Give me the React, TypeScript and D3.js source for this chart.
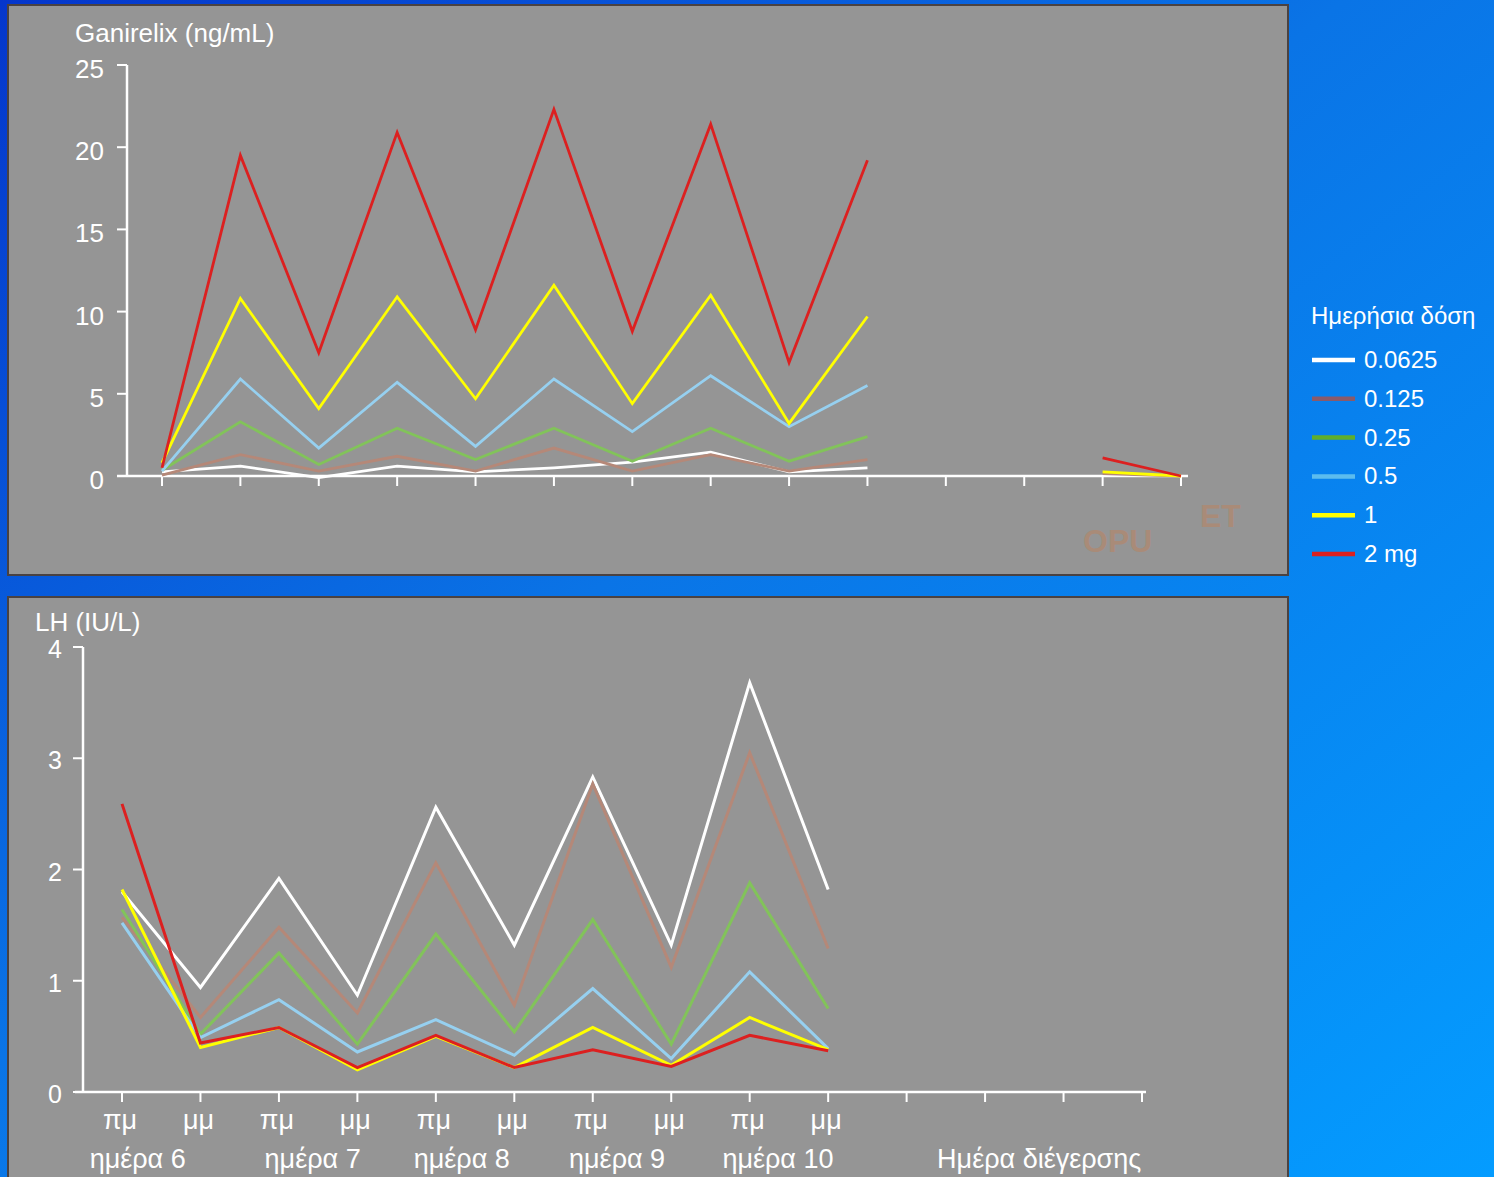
import React from 'react';
import * as d3 from 'd3';

// x positions: 10 sampling points (πμ/μμ, days 6-10) + 4 extra ticks (trigger day etc.)
const timeLabels = ['πμ', 'μμ', 'πμ', 'μμ', 'πμ', 'μμ', 'πμ', 'μμ', 'πμ', 'μμ'];
const tickCount = 14;
const dayLabels = [
  { text: 'ημέρα 6', at: 0.2 },
  { text: 'ημέρα 7', at: 2.43 },
  { text: 'ημέρα 8', at: 4.33 },
  { text: 'ημέρα 9', at: 6.31 },
  { text: 'ημέρα 10', at: 8.36 },
  { text: 'Ημέρα διέγερσης', at: 11.69 },
];

const doses = ['0.0625', '0.125', '0.25', '0.5', '1', '2 mg'];
const lineColors = ['#ffffff', '#b58878', '#82c35a', '#96d0f0', '#ffff00', '#dc2020'];
const legendColors = ['#ffffff', '#8a5a6a', '#5fae2c', '#5cbcee', '#ffff00', '#dc2020'];

// Ganirelix (ng/mL), null = no sample
const gan0625 = [0.25, 0.6, -0.1, 0.6, 0.25, 0.5, 0.85, 1.45, 0.25, 0.5, null, null, null, null];
const gan125 = [0.05, 1.3, 0.3, 1.2, 0.3, 1.7, 0.3, 1.3, 0.3, 1.0, null, null, 0.15, 0];
const gan25 = [0.35, 3.3, 0.7, 2.9, 1.0, 2.9, 0.9, 2.9, 0.9, 2.4, null, null, null, null];
const gan5 = [0.3, 5.9, 1.7, 5.7, 1.8, 5.9, 2.7, 6.1, 3.0, 5.5, null, null, null, null];
const gan1 = [0.8, 10.8, 4.1, 10.9, 4.7, 11.6, 4.4, 11.0, 3.2, 9.7, null, null, 0.25, 0];
const gan2 = [0.5, 19.5, 7.5, 20.9, 8.9, 22.3, 8.8, 21.4, 6.9, 19.2, null, null, 1.1, 0];
const ganSeries = [gan0625, gan125, gan25, gan5, gan1, gan2];
const ganTicks = [0, 5, 10, 15, 20, 25];

// LH (IU/L)
const lh0625 = [1.8, 0.94, 1.92, 0.87, 2.56, 1.32, 2.83, 1.32, 3.68, 1.82];
const lh125 = [1.57, 0.67, 1.48, 0.71, 2.06, 0.78, 2.77, 1.12, 3.05, 1.29];
const lh25 = [1.64, 0.52, 1.25, 0.43, 1.42, 0.54, 1.55, 0.43, 1.88, 0.75];
const lh5 = [1.52, 0.49, 0.83, 0.36, 0.65, 0.33, 0.93, 0.3, 1.08, 0.39];
const lh1 = [1.82, 0.4, 0.58, 0.2, 0.5, 0.22, 0.58, 0.24, 0.67, 0.38];
const lh2 = [2.59, 0.44, 0.58, 0.22, 0.51, 0.22, 0.38, 0.23, 0.51, 0.37];
const lhSeries = [lh0625, lh125, lh25, lh5, lh1, lh2];
const lhTicks = [0, 1, 2, 3, 4];

const FONT = '"Liberation Sans", Arial, sans-serif';

export default function App() {
  const idx = d3.range(tickCount);

  // top chart scales
  const x1 = d3.scaleLinear().domain([0, tickCount - 1]).range([162, 1181]);
  const y1 = d3.scaleLinear().domain([0, 25]).range([476, 65]);
  // bottom chart scales
  const x2 = d3.scaleLinear().domain([0, tickCount - 1]).range([122, 1142]);
  const y2 = d3.scaleLinear().domain([0, 4]).range([1092, 647]);

  const line1 = d3.line<number | null>()
    .defined(d => d != null)
    .x((d, i) => x1(i))
    .y(d => y1(d as number));
  const line2 = d3.line<number>()
    .x((d, i) => x2(i))
    .y(d => y2(d));

  return (
    <svg width={1494} height={1177} style={{ position: 'fixed', left: 0, top: 0 }} fontFamily={FONT}>
      <defs>
        <linearGradient id="bg" x1="0" y1="0" x2="1" y2="1">
          <stop offset="0" stopColor="#0536cc" />
          <stop offset="0.45" stopColor="#0a74e6" />
          <stop offset="1" stopColor="#049cff" />
        </linearGradient>
      </defs>
      <rect width={1494} height={1177} fill="url(#bg)" />

      {/* panels */}
      <rect x={8} y={5} width={1280} height={570} fill="#959595" stroke="#4a4242" strokeWidth={2} />
      <rect x={8} y={597} width={1280} height={600} fill="#959595" stroke="#4a4242" strokeWidth={2} />

      {/* ---- top chart: Ganirelix ---- */}
      <text x={75} y={42} fill="#fff" fontSize={26}>Ganirelix (ng/mL)</text>
      <line x1={127} x2={127} y1={y1(25)} y2={y1(0)} stroke="#fff" strokeWidth={2.5} />
      {ganTicks.map(t => (
        <g key={t}>
          <line x1={117} x2={127} y1={y1(t)} y2={y1(t)} stroke="#fff" strokeWidth={2} />
          <text x={104} y={y1(t) + 13} fill="#fff" fontSize={26} textAnchor="end">{t}</text>
        </g>
      ))}
      <line x1={117} x2={1188} y1={y1(0)} y2={y1(0)} stroke="#fff" strokeWidth={2.5} />
      {idx.map(i => (
        <line key={i} x1={x1(i)} x2={x1(i)} y1={y1(0)} y2={y1(0) + 10} stroke="#fff" strokeWidth={2} />
      ))}
      {ganSeries.map((s, k) => (
        <path key={k} d={line1(s) || ''} fill="none" stroke={lineColors[k]} strokeWidth={2.8} strokeLinejoin="miter" />
      ))}
      <text x={1083} y={552} fill="#a98b78" fontSize={32} fontWeight="bold">OPU</text>
      <text x={1200} y={527} fill="#a98b78" fontSize={32} fontWeight="bold">ET</text>

      {/* legend */}
      <text x={1311} y={324} fill="#fff" fontSize={24}>Ημερήσια δόση</text>
      {doses.map((d, k) => {
        const yy = 360 + k * 38.8;
        return (
          <g key={d}>
            <line x1={1312} x2={1355} y1={yy} y2={yy} stroke={legendColors[k]} strokeWidth={4.5} />
            <text x={1364} y={yy + 8} fill="#fff" fontSize={24}>{d}</text>
          </g>
        );
      })}

      {/* ---- bottom chart: LH ---- */}
      <text x={35} y={631} fill="#fff" fontSize={26}>LH (IU/L)</text>
      <line x1={83} x2={83} y1={y2(4)} y2={y2(0)} stroke="#fff" strokeWidth={2.5} />
      {lhTicks.map(t => (
        <g key={t}>
          <line x1={73} x2={83} y1={y2(t)} y2={y2(t)} stroke="#fff" strokeWidth={2} />
          <text x={62} y={y2(t) + 11} fill="#fff" fontSize={25} textAnchor="end">{t}</text>
        </g>
      ))}
      <line x1={75} x2={1146} y1={y2(0)} y2={y2(0)} stroke="#fff" strokeWidth={2.5} />
      {idx.map(i => (
        <line key={i} x1={x2(i)} x2={x2(i)} y1={y2(0)} y2={y2(0) + 10} stroke="#fff" strokeWidth={2} />
      ))}
      {lhSeries.map((s, k) => (
        <path key={k} d={line2(s) || ''} fill="none" stroke={lineColors[k]} strokeWidth={3} />
      ))}
      {timeLabels.map((t, i) => (
        <text key={i} x={x2(i) - 2} y={1129} fill="#fff" fontSize={27} textAnchor="middle">{t}</text>
      ))}
      {dayLabels.map(d => (
        <text key={d.text} x={x2(d.at)} y={1168} fill="#fff" fontSize={27} textAnchor="middle">{d.text}</text>
      ))}
    </svg>
  );
}
